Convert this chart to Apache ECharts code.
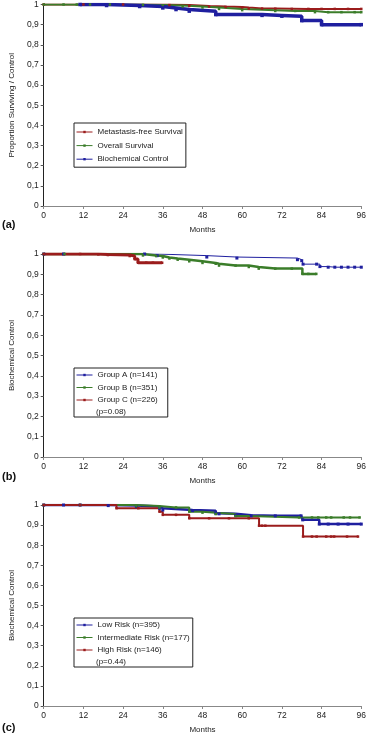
<!DOCTYPE html>
<html><head><meta charset="utf-8">
<script src="https://cdn.jsdelivr.net/npm/echarts@6/dist/echarts.min.js"></script>
<style>html,body{margin:0;padding:0;background:#fff}#c{width:369px;height:735px}</style>
</head><body><div id="c"></div>
<script>
// ---- tick labels ----
const xTicks = [0, 12, 24, 36, 48, 60, 72, 84, 96];
const yTickLabels = ['0', '0,1', '0,2', '0,3', '0,4', '0,5', '0,6', '0,7', '0,8', '0,9', '1'];

// ---- panel (a) ----
const aNames = ['Metastasis-free Survival', 'Overall Survival', 'Biochemical Control'];
const aMetT = [0, 12, 24, 38, 44, 50, 55, 60, 62, 66, 70, 75, 80, 84, 88, 92, 96];
const aMetS = [1, 1, 1, 0.997, 0.993, 0.99, 0.988, 0.985, 0.98, 0.98, 0.979, 0.978, 0.978, 0.978, 0.978, 0.978, 0.978];
const aOsT = [0, 6, 10, 14, 20, 30, 36, 42, 48, 53, 60, 70, 76, 82, 86, 90, 94, 96];
const aOsS = [1, 1, 1, 1, 1, 0.998, 0.995, 0.99, 0.985, 0.978, 0.972, 0.968, 0.968, 0.962, 0.962, 0.962, 0.962, 0.962];
const aBioT = [11, 19, 29, 36, 40, 44, 52, 66, 72, 78, 84, 96];
const aBioS = [1, 0.995, 0.99, 0.983, 0.975, 0.967, 0.95, 0.946, 0.942, 0.92, 0.90, 0.90];

// ---- panel (b) ----
const bNames = ['Group A (n=141)', 'Group B (n=351)', 'Group C (n=226)'];
const bAT = [0, 6, 30.5, 34.3, 49.3, 58.4, 76.7, 78, 78.4, 82.5, 83.5, 86, 88, 90, 92, 94, 96];
const bAS = [1, 1, 1, 0.992, 0.985, 0.98, 0.972, 0.967, 0.95, 0.95, 0.938, 0.935, 0.935, 0.935, 0.935, 0.935, 0.935];
const bBT = [0, 6.3, 30, 34, 36, 38, 40.5, 44, 48, 52, 53, 58, 62, 65, 70, 75, 78.2, 80, 82.4];
const bBS = [1, 1, 0.993, 0.99, 0.983, 0.978, 0.972, 0.964, 0.956, 0.952, 0.943, 0.943, 0.936, 0.928, 0.928, 0.928, 0.902, 0.902, 0.902];
const bCT = [0, 11, 16.5, 19.4, 26, 27.5, 28.5, 31, 33, 35.8];
const bCS = [1, 1, 0.998, 0.995, 0.99, 0.975, 0.957, 0.957, 0.957, 0.957];
const bP = '(p=0.08)';

// ---- panel (c) ----
const cNames = ['Low Risk (n=395)', 'Intermediate Risk (n=177)', 'High Risk (n=146)'];
const cLowT = [0, 6, 11, 19.5, 28, 35, 36, 45, 52, 53, 58, 62.7, 70, 77.8, 78.3, 83.3, 86, 89, 92, 96];
const cLowS = [1, 1, 1, 0.997, 0.992, 0.984, 0.975, 0.972, 0.959, 0.956, 0.949, 0.946, 0.946, 0.946, 0.926, 0.905, 0.905, 0.905, 0.905, 0.905];
const cIntT = [0, 11, 28, 35, 40, 44, 48, 52, 58, 62, 77.2, 81.1, 83, 85.4, 86.9, 90.7, 92.6, 95.5];
const cIntS = [1, 1, 0.995, 0.988, 0.988, 0.967, 0.962, 0.955, 0.945, 0.938, 0.938, 0.938, 0.938, 0.938, 0.938, 0.938, 0.938, 0.938];
const cHighT = [0, 11, 22, 28.6, 35, 36, 40, 44, 50, 56, 62, 65.1, 66, 67, 78.4, 81.1, 82.5, 85.4, 86.9, 87.8, 91.7, 95];
const cHighS = [1, 1, 0.984, 0.984, 0.967, 0.951, 0.951, 0.934, 0.934, 0.934, 0.934, 0.897, 0.897, 0.897, 0.843, 0.843, 0.843, 0.843, 0.843, 0.843, 0.843, 0.843];
const cP = '(p=0.44)';

const RED = '#9B1C1C', GREEN = '#3B7D2A', BLUE = '#1F1F9F';
const FONT = 'Liberation Sans, Arial, sans-serif';
const pair = (t, s) => t.map((x, i) => [x, s[i]]);

const grids = [
  { left: 33, right: 4, top: 4, height: 202 },
  { left: 33, right: 4, top: 254, height: 203 },
  { left: 33, right: 4, top: 505, height: 203 }
];
const yNames = ['Proportion Surviving / Control', 'Biochemical Control', 'Biochemical Control'];

const xAxes = grids.map((g, i) => ({
  gridIndex: i, type: 'value', min: 0, max: 96, interval: 12,
  name: 'Months', nameLocation: 'middle', nameGap: 20,
  nameTextStyle: { fontSize: 8, color: '#222', fontFamily: FONT },
  axisLine: { lineStyle: { color: '#888', width: 1 } },
  axisTick: { show: true, length: 3, lineStyle: { color: '#888' } },
  axisLabel: { fontSize: 8.5, color: '#222', fontFamily: FONT, margin: 5, formatter: v => String(xTicks[xTicks.indexOf(v)]) },
  splitLine: { show: false }
}));
const yAxes = grids.map((g, i) => ({
  gridIndex: i, type: 'value', min: 0, max: 1, interval: 0.1,
  name: yNames[i], nameLocation: 'middle', nameGap: 22,
  nameTextStyle: { fontSize: 8, color: '#222', fontFamily: FONT },
  axisLine: { show: true, lineStyle: { color: '#222', width: 1 } },
  axisTick: { show: true, length: 3, lineStyle: { color: '#555' } },
  axisLabel: { fontSize: 8.5, color: '#222', fontFamily: FONT, margin: 5, formatter: (v) => yTickLabels[Math.round(v * 10)] },
  splitLine: { show: false }
}));

function km(name, data, idx, color, lw, ss) {
  return {
    name, type: 'line', step: 'end', xAxisIndex: idx, yAxisIndex: idx, data: data,
    showSymbol: true, symbol: 'rect', symbolSize: ss,
    lineStyle: { color, width: lw }, itemStyle: { color },
    animation: false, silent: true
  };
}

const series = [
  km(aNames[0], pair(aMetT, aMetS), 0, RED, 2, 2.5),
  km(aNames[1], pair(aOsT, aOsS), 0, GREEN, 2, 2.5),
  km(aNames[2], pair(aBioT, aBioS), 0, BLUE, 3.5, 3.5),
  km(bNames[0], pair(bAT, bAS), 1, BLUE, 1, 3),
  km(bNames[1], pair(bBT, bBS), 1, GREEN, 2.5, 2.5),
  km(bNames[2], pair(bCT, bCS), 1, RED, 3, 2.5),
  km(cNames[0], pair(cLowT, cLowS), 2, BLUE, 2.5, 3),
  km(cNames[1], pair(cIntT, cIntS), 2, GREEN, 2, 2.5),
  km(cNames[2], pair(cHighT, cHighS), 2, RED, 2, 2.5)
];

function leg(names, left, top, padding, gap) {
  return {
    data: names, orient: 'vertical', left, top, padding,
    itemWidth: 16, itemHeight: 3, itemGap: gap,
    lineStyle: { width: 1 },
    borderColor: '#222', borderWidth: 1, backgroundColor: '#fff',
    textStyle: { fontSize: 8, color: '#222', fontFamily: FONT },
    selectedMode: false
  };
}

const option = {
  backgroundColor: '#fff',
  animation: false,
  grid: grids,
  xAxis: xAxes,
  yAxis: yAxes,
  legend: [
    leg(aNames, 74, 123, [5, 3, 4, 2], 5.6),
    leg(bNames, 74, 368, [3, 10, 13, 2], 4.5),
    leg(cNames, 74, 618, [3, 3, 13, 2], 4.5)
  ],
  graphic: [
    { type: 'text', left: 2, top: 219, style: { text: '(a)', font: 'bold 11px ' + FONT, fill: '#111' } },
    { type: 'text', left: 2, top: 471, style: { text: '(b)', font: 'bold 11px ' + FONT, fill: '#111' } },
    { type: 'text', left: 2, top: 722, style: { text: '(c)', font: 'bold 11px ' + FONT, fill: '#111' } },
    { type: 'text', left: 96, top: 407.5, z: 100, style: { text: bP, font: '8px ' + FONT, fill: '#222' } },
    { type: 'text', left: 96, top: 657.5, z: 100, style: { text: cP, font: '8px ' + FONT, fill: '#222' } }
  ],
  series
};
const chart = echarts.init(document.getElementById('c'), null, { renderer: 'canvas' });
chart.setOption(option);
</script></body></html>
